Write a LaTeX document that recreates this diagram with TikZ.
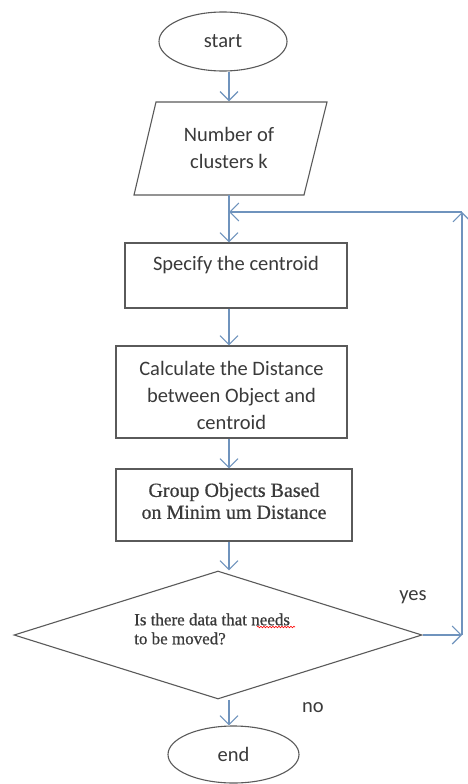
\documentclass[tikz,border=0pt]{standalone}
\usepackage{fontspec}
\setmainfont{Carlito}
\newfontfamily\tnr[FakeBold=0.6]{Liberation Serif}
\usetikzlibrary{shapes.geometric,arrows.meta,decorations.pathmorphing}
\definecolor{shapegray}{HTML}{5A5A5A}
\definecolor{arrowblue}{HTML}{6F93BD}
\definecolor{textgray}{HTML}{3A3A3A}
\begin{document}
\begin{tikzpicture}[x=1pt,y=-1pt,
  shapeline/.style={draw=shapegray,line width=1.1pt},
  arr/.style={draw=arrowblue,line width=1.1pt,-{Straight Barb[length=9pt,width=18pt]}},
  txt/.style={text=textgray,font=\fontsize{20.5}{27}\selectfont,align=center},
  serif/.style={text=textgray,font=\tnr\fontsize{20}{22}\selectfont,align=center}]
\useasboundingbox (0,0) rectangle (468,784);
\fill[white] (0,0) rectangle (468,784);
\coordinate (ax) at (229,0);
\coordinate (rb) at (462,635);
\coordinate (rt) at (462,212);

\node[ellipse,shapeline,minimum width=128,minimum height=59,txt] (start) at (223,41.5) {start};
\draw[shapeline] (156,102) -- (327,102) -- (304,195) -- (134,195) -- cycle;
\node[txt,minimum height=93] (num) at (229,148) {Number of\\clusters k};
\node[rectangle,shapeline,minimum width=222,minimum height=65] (spec) at (236,275.5) {};
\node[txt] (specT) at ([yshift=10pt]spec.center) {Specify the centroid};
\node[rectangle,shapeline,minimum width=231,minimum height=92] (calc) at (231.5,392) {};
\node[txt] (calcT) at ([yshift=-3pt]calc.center) {Calculate the Distance\\between Object and\\centroid};
\node[rectangle,shapeline,minimum width=236,minimum height=72] (grp) at (234,505) {};
\node[serif] (grpT) at ([yshift=4pt]grp.center) {Group Objects Based\\on Minim um Distance};
\node[diamond,shapeline,aspect=3.2,inner sep=0pt,minimum width=408,minimum height=128] (dec) at (218,635) {};
\node[anchor=west,inner sep=0pt,text=textgray,font=\tnr\fontsize{17}{19}\selectfont,align=left] (decT) at (134,629) {Is there data that needs\\to be moved?};
\node[ellipse,shapeline,minimum width=131,minimum height=57,txt] (end) at (233.5,754.5) {end};
\node[txt] (yes) at (413,597) {yes};
\node[txt] (no) at (313,708) {no};

\draw[red,line width=0.6pt,decorate,decoration={snake,amplitude=0.8pt,segment length=3pt}] (257,627) -- (295,627);

\draw[arr] (start.south -| ax) -- (num.north -| ax);
\draw[arr] (num.south -| ax) -- (spec.north -| ax);
\draw[arr] (spec.south -| ax) -- (calc.north -| ax);
\draw[arr] (calc.south -| ax) -- (grp.north -| ax);
\draw[arr] (grp.south -| ax) -- (dec.north -| ax);
\draw[arr] (dec.south -| ax) -- (end.north -| ax);
\draw[arr] (dec.east) -- (rb);
\draw[arr] (rb) -- (rt);
\draw[arr] (rt) -- (ax |- rt);
\end{tikzpicture}
\end{document}
